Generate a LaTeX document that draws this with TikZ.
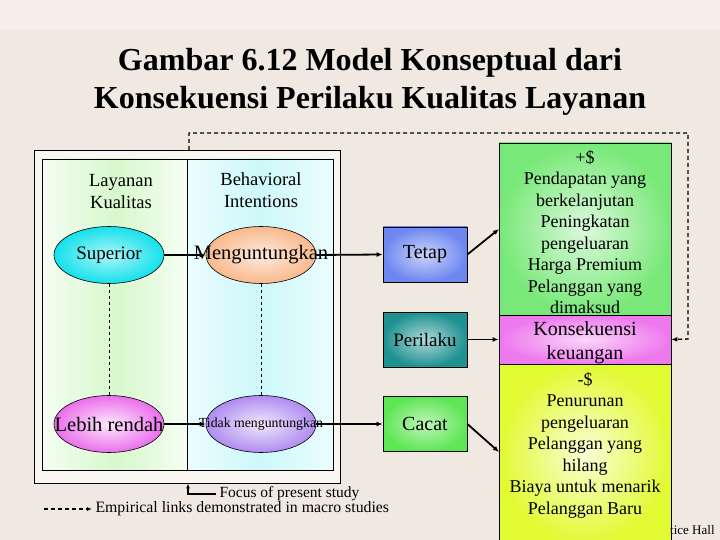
\documentclass[tikz,border=0pt]{standalone}
\usepackage{fontspec}
\setmainfont{Liberation Serif}
\usetikzlibrary{arrows.meta,shapes.geometric}
\definecolor{bgc}{RGB}{240,233,226}
\definecolor{outerfill}{RGB}{250,247,243}
\definecolor{colgreen}{RGB}{215,248,205}
\definecolor{colcyan}{RGB}{205,248,250}
\definecolor{supc}{RGB}{20,225,235}
\definecolor{menc}{RGB}{248,185,140}
\definecolor{lebc}{RGB}{235,110,235}
\definecolor{tidc}{RGB}{175,140,240}
\definecolor{tetc}{RGB}{110,135,240}
\definecolor{perc}{RGB}{30,145,145}
\definecolor{cacc}{RGB}{95,230,85}
\definecolor{bigg}{RGB}{120,232,120}
\definecolor{pinkc}{RGB}{238,120,238}
\definecolor{yelc}{RGB}{225,250,50}
\tikzset{
  ell/.style={ellipse, draw=black, line width=0.6pt, minimum width=110pt, minimum height=57pt, inner sep=0pt},
  sbox/.style={draw=black, line width=0.8pt, minimum width=84pt, minimum height=55pt, inner sep=0pt},
  arr/.style={-{Latex[length=6pt,width=5pt]}, line width=1.8pt},
  dsh/.style={dashed, dash pattern=on 4pt off 3pt, line width=1.4pt},
  lbl/.style={align=center, font=\fontsize{18.5}{22}\selectfont},
  btxt/.style={font=\fontsize{20}{22}\selectfont},
}
\begin{document}
\begin{tikzpicture}[x=1pt,y=-1pt]
\useasboundingbox (0,0) rectangle (720,540);
\fill[bgc] (0,0) rectangle (720,540);
\fill[white, opacity=0.3] (0,0) rectangle (720,30);
% title
\node[align=center, font=\bfseries\fontsize{32}{38}\selectfont] (title) at (370,82) {Gambar 6.12 Model Konseptual dari\\Konsekuensi Perilaku Kualitas Layanan};
% left panel
\node[draw=black, line width=0.8pt, fill=outerfill, minimum width=306pt, minimum height=333pt, inner sep=0pt] (outer) at (187,316.5) {};
\shade[left color=colgreen!25, right color=colgreen] (42,159) rectangle (115,470);
\shade[left color=colgreen, right color=colgreen!25] (115,159) rectangle (187,470);
\shade[left color=colcyan!40, right color=colcyan] (187,159) rectangle (260,470);
\shade[left color=colcyan, right color=colcyan!40] (260,159) rectangle (333,470);
\node[draw=black, line width=0.8pt, minimum width=291pt, minimum height=311pt, inner sep=0pt] (inner) at (187.5,314.5) {};
\draw[line width=0.8pt] (187,159) -- (187,470);
\node[lbl] (lk) at (121,192) {Layanan\\Kualitas};
\node[lbl] (bi) at (261,190) {Behavioral\\Intentions};
% ellipses
\node[ell, inner color=supc!35, outer color=supc] (sup) at (109,255) {};
\node[ell, inner color=menc!30, outer color=menc] (men) at (261,255) {};
\node[ell, inner color=lebc!15, outer color=lebc] (leb) at (109,424) {};
\node[ell, inner color=tidc!20, outer color=tidc] (tid) at (261,424) {};
% dashed links
\draw[dashed, dash pattern=on 3pt off 3pt, line width=0.6pt] (sup.south) -- (leb.north);
\draw[dashed, dash pattern=on 3pt off 3pt, line width=0.6pt] (men.south) -- (tid.north);
% right boxes
\node[sbox, inner color=tetc!35, outer color=tetc] (tet) at (425,254.5) {};
\node[sbox, inner color=perc!35, outer color=perc] (per) at (425,339.5) {};
\node[sbox, inner color=cacc!40, outer color=cacc] (cac) at (425,424) {};
% big right boxes
\node[draw=black, line width=0.8pt, inner color=bigg!25, outer color=bigg, minimum width=172pt, minimum height=172pt, inner sep=0pt] (gbox) at (585,229) {};
\node[align=center, font=\fontsize{18}{21.5}\selectfont, inner sep=0pt] (gtxt) at (585,232) {+\$\\Pendapatan yang\\berkelanjutan\\Peningkatan\\pengeluaran\\Harga Premium\\Pelanggan yang\\dimaksud};
\node[draw=black, line width=0.8pt, inner color=pinkc!30, outer color=pinkc, minimum width=172pt, minimum height=49pt, inner sep=0pt] (pbox) at (585,339.5) {};
\node[align=center, font=\fontsize{20}{24}\selectfont, inner sep=0pt] (ptxt) at (585,343) {Konsekuensi\\keuangan};
\node[draw=black, line width=0.8pt, inner color=yelc!20, outer color=yelc, minimum width=172pt, minimum height=180pt, inner sep=0pt] (ybox) at (585,454) {};
\node[align=center, font=\fontsize{18}{21.5}\selectfont] (ytxt) at (585,445) {-\$\\Penurunan\\pengeluaran\\Pelanggan yang\\hilang\\Biaya untuk menarik\\Pelanggan Baru};
% connectors
\draw[arr] (sup.east) -- (men.west);
\draw[arr] (leb.east) -- (tid.west);
\draw[arr] (men.east) -- (tet.west);
\draw[arr] (tid.east) -- (cac.west);
\coordinate (gin) at (499,229);
\coordinate (yin) at (499,452);
\draw[arr] (tet.east) -- (gin);
\draw[arr] (per.east) -- (pbox.west);
\draw[arr] (cac.east) -- (yin);
% ellipse and box texts (over connectors)
\node[font=\fontsize{19}{22}\selectfont] at (sup) {Superior};
\node[font=\fontsize{20.5}{22}\selectfont] at (men) {Menguntungkan};
\node[font=\fontsize{20.5}{22}\selectfont] at (leb) {Lebih rendah};
\node[font=\fontsize{13.8}{16}\selectfont] at (tid) {Tidak menguntungkan};
\node[btxt] at (tet) {Tetap};
\node[font=\fontsize{19}{22}\selectfont] at (per) {Perilaku};
\node[btxt] at (cac) {Cacat};
% feedback dashed
\coordinate (fb0) at (189,150);
\coordinate (fb1) at (189,133);
\coordinate (fb2) at (688,133);
\coordinate (fb3) at (688,339);
\draw[dsh, -{Latex[length=6pt,width=5pt]}] (fb0) -- (fb1) -- (fb2) -- (fb3) -- (pbox.east);
% legend
\node[anchor=west, font=\fontsize{15.5}{18}\selectfont] (focus) at (216,494) {Focus of present study};
\coordinate (fc) at (188,494);
\draw[line width=1.6pt, -{Latex[length=5pt,width=4pt]}] (focus.west) -- (fc) -- (fc |- outer.south);
\node[anchor=west, font=\fontsize{15.8}{18}\selectfont] (emp) at (92,509) {Empirical links demonstrated in macro studies};
\coordinate (el) at (44,509);
\draw[dsh, line width=1.2pt, -{Latex[length=5pt,width=4pt]}] (el) -- (emp.west);
\node[anchor=west, font=\fontsize{13}{15}\selectfont, inner sep=1pt] (ph) at (669,530) {tice Hall};
\end{tikzpicture}
\end{document}
